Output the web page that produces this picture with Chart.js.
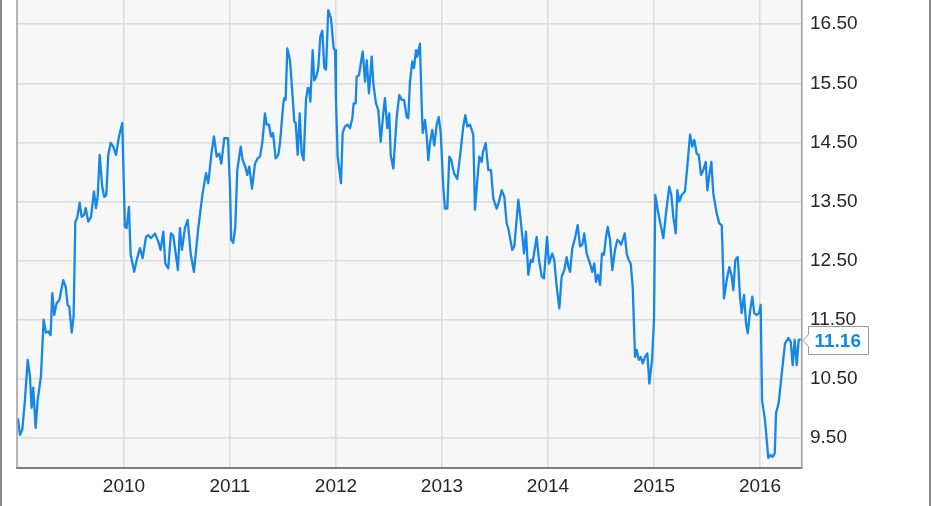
<!DOCTYPE html>
<html>
<head>
<meta charset="utf-8">
<script src="https://cdn.jsdelivr.net/npm/chart.js@4.4.1/dist/chart.umd.min.js"></script>
<style>
  html, body { margin: 0; padding: 0; background: #ffffff; }
  #wrap { position: relative; width: 931px; height: 506px; }
</style>
</head>
<body>
<div id="wrap"><canvas id="price-chart"></canvas></div>
<script>
// dates as decimal years, prices
const dates = [
  2009.000, 2009.019, 2009.041, 2009.066, 2009.092, 2009.113, 2009.129, 2009.144, 2009.167, 2009.186,
  2009.217, 2009.242, 2009.264, 2009.286, 2009.308, 2009.324, 2009.342, 2009.365, 2009.390, 2009.427,
  2009.450, 2009.469, 2009.484, 2009.507, 2009.525, 2009.541, 2009.559, 2009.582, 2009.601, 2009.623,
  2009.639, 2009.663, 2009.689, 2009.717, 2009.736, 2009.752, 2009.771, 2009.795, 2009.814, 2009.833,
  2009.852, 2009.875, 2009.899, 2009.925, 2009.953, 2009.984, 2010.009, 2010.025, 2010.047, 2010.063,
  2010.097, 2010.120, 2010.151, 2010.176, 2010.208, 2010.229, 2010.255, 2010.292, 2010.324, 2010.346,
  2010.371, 2010.390, 2010.418, 2010.443, 2010.465, 2010.488, 2010.509, 2010.528, 2010.547, 2010.575,
  2010.601, 2010.629, 2010.660, 2010.701, 2010.742, 2010.774, 2010.795, 2010.827, 2010.849, 2010.875,
  2010.899, 2010.918, 2010.946, 2010.981, 2011.000, 2011.012, 2011.031, 2011.050, 2011.069, 2011.101,
  2011.120, 2011.144, 2011.163, 2011.182, 2011.208, 2011.236, 2011.261, 2011.283, 2011.305, 2011.330,
  2011.346, 2011.368, 2011.387, 2011.406, 2011.431, 2011.456, 2011.472, 2011.503, 2011.512, 2011.525,
  2011.541, 2011.566, 2011.582, 2011.607, 2011.620, 2011.639, 2011.658, 2011.676, 2011.695, 2011.717,
  2011.733, 2011.745, 2011.758, 2011.780, 2011.795, 2011.814, 2011.833, 2011.852, 2011.871, 2011.890,
  2011.906, 2011.927, 2011.953, 2011.978, 2011.991, 2012.000, 2012.016, 2012.047, 2012.063, 2012.085,
  2012.110, 2012.132, 2012.154, 2012.167, 2012.186, 2012.195, 2012.217, 2012.252, 2012.274, 2012.290,
  2012.311, 2012.337, 2012.352, 2012.377, 2012.399, 2012.422, 2012.446, 2012.462, 2012.484, 2012.503,
  2012.516, 2012.541, 2012.573, 2012.597, 2012.620, 2012.642, 2012.667, 2012.682, 2012.698, 2012.720,
  2012.736, 2012.755, 2012.767, 2012.792, 2012.808, 2012.818, 2012.840, 2012.856, 2012.871, 2012.887,
  2012.908, 2012.927, 2012.950, 2012.969, 2012.988, 2013.012, 2013.028, 2013.050, 2013.069, 2013.088,
  2013.113, 2013.144, 2013.170, 2013.201, 2013.220, 2013.239, 2013.264, 2013.295, 2013.311, 2013.333,
  2013.352, 2013.375, 2013.387, 2013.412, 2013.437, 2013.462, 2013.484, 2013.516, 2013.538, 2013.563,
  2013.588, 2013.610, 2013.625, 2013.663, 2013.682, 2013.720, 2013.742, 2013.774, 2013.792, 2013.814,
  2013.837, 2013.856, 2013.893, 2013.915, 2013.941, 2013.962, 2013.991, 2014.009, 2014.040, 2014.059,
  2014.082, 2014.107, 2014.129, 2014.154, 2014.176, 2014.192, 2014.208, 2014.229, 2014.255, 2014.280,
  2014.302, 2014.324, 2014.342, 2014.365, 2014.396, 2014.418, 2014.437, 2014.453, 2014.472, 2014.491,
  2014.509, 2014.528, 2014.547, 2014.563, 2014.585, 2014.607, 2014.632, 2014.654, 2014.673, 2014.689,
  2014.705, 2014.724, 2014.742, 2014.761, 2014.780, 2014.799, 2014.821, 2014.837, 2014.856, 2014.875,
  2014.893, 2014.915, 2014.937, 2014.956, 2014.981, 2015.000, 2015.012, 2015.041, 2015.063, 2015.088,
  2015.113, 2015.144, 2015.163, 2015.182, 2015.205, 2015.220, 2015.239, 2015.261, 2015.292, 2015.314,
  2015.340, 2015.361, 2015.380, 2015.403, 2015.422, 2015.443, 2015.465, 2015.488, 2015.503, 2015.522,
  2015.541, 2015.559, 2015.591, 2015.616, 2015.639, 2015.660, 2015.686, 2015.710, 2015.733, 2015.748,
  2015.767, 2015.790, 2015.811, 2015.827, 2015.849, 2015.868, 2015.884, 2015.906, 2015.927, 2015.946,
  2015.969, 2015.991, 2016.006, 2016.019, 2016.047, 2016.078, 2016.101, 2016.120, 2016.139, 2016.151,
  2016.176, 2016.205, 2016.236, 2016.267, 2016.290, 2016.308, 2016.327, 2016.346, 2016.365, 2016.384
];

const prices = [
  9.83, 9.55, 9.64, 10.14, 10.82, 10.54, 10.01, 10.35, 9.67, 10.14,
  10.54, 11.50, 11.28, 11.30, 11.24, 11.95, 11.58, 11.78, 11.83, 12.17,
  12.06, 11.75, 11.72, 11.28, 11.55, 13.16, 13.22, 13.48, 13.24, 13.27,
  13.39, 13.16, 13.24, 13.67, 13.39, 13.58, 14.29, 13.75, 13.58, 13.61,
  14.29, 14.49, 14.43, 14.29, 14.60, 14.83, 13.07, 13.05, 13.41, 12.60,
  12.31, 12.51, 12.71, 12.54, 12.90, 12.93, 12.88, 12.96, 12.82, 12.68,
  12.99, 12.45, 12.37, 12.96, 12.92, 12.62, 12.34, 13.05, 12.68, 13.05,
  13.19, 12.62, 12.31, 13.05, 13.64, 13.98, 13.81, 14.34, 14.60, 14.26,
  14.31, 14.14, 14.57, 14.57, 13.75, 12.85, 12.80, 13.07, 14.03, 14.43,
  14.20, 14.09, 13.95, 14.09, 13.72, 14.14, 14.23, 14.26, 14.49, 14.99,
  14.80, 14.80, 14.60, 14.66, 14.23, 14.29, 14.49, 15.16, 15.25, 15.22,
  16.09, 15.89, 15.50, 14.85, 14.83, 14.29, 14.99, 14.32, 14.20, 15.22,
  15.42, 15.42, 15.19, 16.06, 15.55, 15.61, 15.76, 16.29, 16.39, 15.76,
  15.73, 16.74, 16.60, 16.09, 16.06, 15.22, 14.26, 13.81, 14.66, 14.77,
  14.80, 14.74, 14.91, 15.16, 15.16, 15.61, 15.64, 16.04, 15.53, 15.89,
  15.33, 15.95, 15.50, 15.16, 15.05, 14.51, 14.99, 15.25, 14.74, 14.99,
  14.29, 14.06, 14.93, 15.30, 15.22, 15.22, 14.93, 14.91, 15.53, 15.87,
  15.76, 16.06, 15.95, 16.17, 15.16, 14.66, 14.88, 14.60, 14.20, 14.49,
  14.71, 14.45, 14.80, 14.93, 14.66, 13.75, 13.38, 13.38, 14.26, 14.20,
  13.98, 13.88, 14.26, 14.77, 14.96, 14.77, 14.80, 14.63, 13.36, 13.86,
  14.26, 14.17, 14.34, 14.49, 14.03, 14.03, 13.55, 13.38, 13.50, 13.69,
  13.58, 13.13, 13.05, 12.68, 12.74, 13.53, 13.19, 12.62, 12.99, 12.26,
  12.51, 12.48, 12.90, 12.51, 12.23, 12.20, 12.90, 12.45, 12.62, 12.51,
  12.06, 11.69, 12.23, 12.34, 12.56, 12.40, 12.31, 12.71, 12.88, 13.10,
  12.74, 12.77, 12.96, 12.62, 12.45, 12.31, 12.45, 12.14, 12.26, 12.09,
  12.62, 12.60, 12.90, 13.07, 12.85, 12.34, 12.68, 12.85, 12.82, 12.77,
  12.85, 12.96, 12.62, 12.51, 12.45, 12.06, 10.87, 10.99, 10.82, 10.87,
  10.76, 10.87, 10.93, 10.42, 10.82, 11.50, 13.61, 13.30, 13.10, 12.88,
  13.30, 13.75, 13.61, 13.24, 12.96, 13.69, 13.50, 13.61, 13.67, 14.09,
  14.63, 14.43, 14.54, 14.31, 14.29, 13.95, 14.03, 14.17, 13.69, 13.95,
  14.17, 13.64, 13.30, 13.13, 13.10, 11.86, 12.17, 12.39, 12.23, 12.00,
  12.51, 12.56, 11.89, 11.61, 11.92, 11.44, 11.27, 11.64, 11.89, 11.61,
  11.58, 11.61, 11.75, 10.14, 9.80, 9.16, 9.21, 9.18, 9.24, 9.92,
  10.09, 10.59, 11.10, 11.19, 11.13, 10.73, 11.16, 10.73, 11.16, 11.16
];

const yearTicks = [2010, 2011, 2012, 2013, 2014, 2015, 2016];
const priceTicks = [9.5, 10.5, 11.5, 12.5, 13.5, 14.5, 15.5, 16.5];

const LINE_BLUE = "#1687e8";
const FONT = "'Liberation Sans', Arial, sans-serif";

// plot background and the frame lines
const framePlugin = {
  id: "frame",
  beforeDraw(chart) {
    const { ctx, chartArea: a } = chart;
    ctx.save();
    ctx.fillStyle = "#f7f7f7";
    ctx.fillRect(a.left, a.top, a.right - a.left, a.bottom - a.top);
    ctx.restore();
  },
  afterDraw(chart) {
    const { ctx, chartArea: a, width, height } = chart;
    ctx.save();
    ctx.strokeStyle = "#9c9c9c";
    ctx.lineWidth = 1.5;
    ctx.beginPath();
    ctx.moveTo(a.left, a.top);
    ctx.lineTo(a.left, a.bottom);
    ctx.stroke();
    // outer frame
    ctx.strokeStyle = "#8a8a8a";
    ctx.lineWidth = 2;
    ctx.beginPath();
    ctx.moveTo(1, 0);
    ctx.lineTo(1, height);
    ctx.moveTo(width - 1, 0);
    ctx.lineTo(width - 1, height);
    ctx.stroke();
    ctx.restore();
  },
};

// box with the latest price
const lastPricePlugin = {
  id: "lastPrice",
  afterDraw(chart) {
    const { ctx, chartArea: a } = chart;
    const last = prices[prices.length - 1];
    const y = Math.round(chart.scales.y.getPixelForValue(last)) + 0.5;
    const left = a.right + 6.5;
    const w = 60, h = 28;
    ctx.save();
    ctx.beginPath();
    ctx.moveTo(left, y - h / 2);
    ctx.lineTo(left + w, y - h / 2);
    ctx.lineTo(left + w, y + h / 2);
    ctx.lineTo(left, y + h / 2);
    ctx.lineTo(left, y + 6);
    ctx.lineTo(a.right + 1, y);
    ctx.lineTo(left, y - 6);
    ctx.closePath();
    ctx.fillStyle = "#ffffff";
    ctx.fill();
    ctx.strokeStyle = "#9a9a9a";
    ctx.lineWidth = 1;
    ctx.stroke();
    ctx.fillStyle = LINE_BLUE;
    ctx.font = "bold 19px " + FONT;
    ctx.textBaseline = "middle";
    ctx.textAlign = "left";
    ctx.fillText(last.toFixed(2), left + 6, y + 1);
    ctx.restore();
  },
};

const ctx = document.getElementById("price-chart").getContext("2d");
new Chart(ctx, {
  type: "line",
  data: {
    datasets: [
      {
        data: dates.map((d, i) => ({ x: d, y: prices[i] })),
        borderColor: LINE_BLUE,
        borderWidth: 2.3,
        pointRadius: 0,
        tension: 0,
        fill: false,
        borderJoinStyle: "round",
      },
    ],
  },
  options: {
    responsive: true,
    maintainAspectRatio: false,
    animation: false,
    layout: { padding: { left: 17, top: 0, right: 0, bottom: 0 } },
    plugins: {
      legend: { display: false },
      tooltip: { enabled: false },
    },
    scales: {
      x: {
        type: "linear",
        min: 2008.991,
        max: 2016.396,
        afterBuildTicks: (scale) => {
          scale.ticks = yearTicks.map((v) => ({ value: v }));
        },
        afterFit: (scale) => {
          scale.height = 38;
          scale.paddingLeft = 0;
          scale.paddingRight = 0;
        },
        ticks: {
          autoSkip: false,
          maxRotation: 0,
          padding: 7,
          color: "#262626",
          font: { family: FONT, size: 19 },
          callback: (v) => String(v),
        },
        grid: { color: "#dcdcdc", lineWidth: 1.5, drawTicks: false },
        border: { color: "#7c7c7c", width: 2 },
      },
      y: {
        position: "right",
        min: 8.99,
        max: 16.91,
        afterBuildTicks: (scale) => {
          scale.ticks = priceTicks.map((v) => ({ value: v }));
        },
        afterFit: (scale) => {
          scale.width = 129;
          scale.paddingTop = 0;
          scale.paddingBottom = 0;
        },
        ticks: {
          padding: 8,
          color: "#262626",
          font: { family: FONT, size: 19 },
          callback: (v) => Number(v).toFixed(2),
        },
        grid: { color: "#dcdcdc", lineWidth: 1.5, drawTicks: false },
        border: { color: "#9c9c9c", width: 1.5 },
      },
    },
  },
  plugins: [framePlugin, lastPricePlugin],
});
</script>
</body>
</html>
